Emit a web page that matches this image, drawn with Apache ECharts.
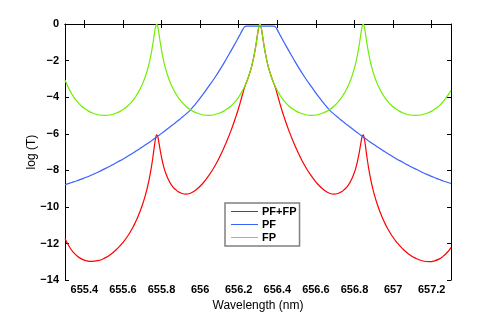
<!DOCTYPE html>
<html>
<head>
<meta charset="utf-8">
<script src="https://cdn.jsdelivr.net/npm/echarts@6/dist/echarts.min.js"></script>
<style>
html,body{margin:0;padding:0;background:#fff;}
#chart{width:498px;height:317px;}
</style>
</head>
<body>
<div id="chart"></div>
<script>
// Wavelength grid (nm)
var wavelength = [
655.300,655.325,655.345,655.360,655.385,655.410,655.435,655.470,655.505,
655.540,655.575,655.600,655.625,655.650,655.665,655.675,655.685,655.695,655.705,655.715,655.725,655.735,655.745,655.755,655.760,655.765,655.770,
655.775,
655.780,655.785,655.790,655.795,655.805,655.815,655.825,655.835,655.845,655.855,655.865,655.875,655.885,655.900,655.925,655.950,655.975,656.010,656.0425,
656.075,656.110,656.135,656.160,656.185,656.200,656.210,656.220,656.230,656.240,656.250,656.260,656.270,656.280,656.290,656.295,656.300,656.305,
656.310,
656.315,656.320,656.325,656.330,656.340,656.350,656.360,656.370,656.380,656.390,656.400,656.410,656.420,656.435,656.460,656.485,656.510,656.545,656.5775,
656.610,656.645,656.670,656.695,656.720,656.735,656.745,656.755,656.765,656.775,656.785,656.795,656.805,656.815,656.825,656.830,656.835,656.840,
656.845,
656.850,656.855,656.860,656.865,656.875,656.885,656.895,656.905,656.915,656.925,656.935,656.945,656.955,656.970,656.995,657.020,657.045,657.080,657.115,
657.15,657.19,657.21,657.24,657.26,657.28,657.30
];
// PF+FP (red)
var pfFp = [
-11.72,-12.22,-12.50,-12.66,-12.84,-12.94,-12.98,-12.94,-12.80,
-12.57,-12.24,-11.95,-11.59,-11.15,-10.84,-10.60,-10.35,-10.07,-9.76,-9.41,-9.01,-8.55,-7.99,-7.31,-6.92,-6.54,-6.22,
-6.06,
-6.14,-6.39,-6.69,-7.00,-7.52,-7.93,-8.24,-8.49,-8.69,-8.85,-8.98,-9.07,-9.16,-9.24,-9.30,-9.25,-9.10,-8.76,-8.32,
-7.79,-7.08,-6.49,-5.83,-5.08,-4.58,-4.22,-3.84,-3.47,-3.19,-2.91,-2.58,-2.19,-1.70,-1.10,-0.75,-0.41,-0.12,
0,
-0.12,-0.41,-0.75,-1.10,-1.70,-2.19,-2.58,-2.91,-3.19,-3.47,-3.84,-4.22,-4.58,-5.08,-5.83,-6.49,-7.08,-7.79,-8.32,
-8.76,-9.10,-9.25,-9.30,-9.24,-9.16,-9.07,-8.98,-8.85,-8.69,-8.49,-8.24,-7.93,-7.52,-7.00,-6.69,-6.39,-6.14,
-6.06,
-6.22,-6.54,-6.92,-7.31,-7.99,-8.55,-9.01,-9.41,-9.76,-10.07,-10.35,-10.60,-10.84,-11.15,-11.59,-11.95,-12.24,-12.57,-12.80,
-12.94,-12.99,-12.96,-12.84,-12.69,-12.49,-12.22
];
// PF (blue)
var pf = [
-8.78,-8.70,-8.63,-8.58,-8.48,-8.38,-8.27,-8.10,-7.92,
-7.73,-7.53,-7.39,-7.23,-7.07,-6.97,-6.90,-6.83,-6.76,-6.69,-6.62,-6.55,-6.48,-6.41,-6.33,-6.29,-6.25,-6.22,
-6.18,
-6.14,-6.10,-6.06,-6.02,-5.94,-5.86,-5.78,-5.70,-5.62,-5.54,-5.46,-5.37,-5.29,-5.16,-4.94,-4.69,-4.39,-3.92,-3.44,
-2.95,-2.37,-1.93,-1.47,-1.00,-0.71,-0.52,-0.32,-0.16,-0.12,-0.12,-0.12,-0.12,-0.12,-0.12,-0.12,-0.12,-0.12,
-0.12,
-0.12,-0.12,-0.12,-0.12,-0.12,-0.12,-0.12,-0.12,-0.12,-0.16,-0.32,-0.52,-0.71,-1.00,-1.47,-1.93,-2.37,-2.95,-3.44,
-3.92,-4.39,-4.69,-4.94,-5.16,-5.29,-5.37,-5.46,-5.54,-5.62,-5.70,-5.78,-5.86,-5.94,-6.02,-6.06,-6.10,-6.14,
-6.18,
-6.22,-6.25,-6.29,-6.33,-6.41,-6.48,-6.55,-6.62,-6.69,-6.76,-6.83,-6.90,-6.97,-7.07,-7.23,-7.39,-7.53,-7.73,-7.92,
-8.10,-8.29,-8.38,-8.50,-8.58,-8.65,-8.72
];
// FP (green)
var fp = [
-3.06,-3.64,-3.99,-4.20,-4.48,-4.68,-4.83,-4.96,-5.00,
-4.96,-4.83,-4.68,-4.48,-4.20,-3.99,-3.82,-3.64,-3.43,-3.19,-2.91,-2.58,-2.19,-1.70,-1.10,-0.75,-0.41,-0.12,
0,
-0.12,-0.41,-0.75,-1.10,-1.70,-2.19,-2.58,-2.91,-3.19,-3.43,-3.64,-3.82,-3.99,-4.20,-4.48,-4.68,-4.83,-4.96,-5.00,
-4.96,-4.83,-4.68,-4.48,-4.20,-3.99,-3.82,-3.64,-3.43,-3.19,-2.91,-2.58,-2.19,-1.70,-1.10,-0.75,-0.41,-0.12,
0,
-0.12,-0.41,-0.75,-1.10,-1.70,-2.19,-2.58,-2.91,-3.19,-3.43,-3.64,-3.82,-3.99,-4.20,-4.48,-4.68,-4.83,-4.96,-5.00,
-4.96,-4.83,-4.68,-4.48,-4.20,-3.99,-3.82,-3.64,-3.43,-3.19,-2.91,-2.58,-2.19,-1.70,-1.10,-0.75,-0.41,-0.12,
0,
-0.12,-0.41,-0.75,-1.10,-1.70,-2.19,-2.58,-2.91,-3.19,-3.43,-3.64,-3.82,-3.99,-4.20,-4.48,-4.68,-4.83,-4.96,-5.00,
-4.96,-4.82,-4.70,-4.46,-4.23,-3.96,-3.62
];
var xTicks = [655.4,655.6,655.8,656,656.2,656.4,656.6,656.8,657,657.2];
var seriesNames = ['PF+FP','PF','FP'];
var colors = ['#ff0000','#3a62ff','#6fee00'];

function zip(xs, ys){ return xs.map(function(x,i){ return [x, ys[i]]; }); }
var FONT = 'Liberation Sans, Arial, Helvetica, sans-serif';

var chart = echarts.init(document.getElementById('chart'), null, {renderer:'canvas'});
var axisLineStyle = {color:'#000', width:1};
chart.setOption({
  animation:false,
  backgroundColor:'#fff',
  grid:{left:65, right:47, top:24, bottom:36, containLabel:false},
  legend:{
    data:seriesNames,
    orient:'vertical',
    left:225, top:203,
    icon:'rect',
    itemWidth:27, itemHeight:1, itemGap:2,
    padding:[3,3,3,6],
    backgroundColor:'#fff',
    borderColor:'#808080', borderWidth:1.5, borderRadius:0,
    textStyle:{fontFamily:FONT, fontSize:11, fontWeight:'bold', color:'#000', padding:[0,0,0,-1]}
  },
  xAxis:[{
    type:'value', min:655.3, max:657.3, position:'bottom',
    name:'Wavelength (nm)', nameLocation:'middle', nameGap:16,
    nameTextStyle:{fontFamily:FONT, fontSize:12, color:'#000'},
    axisLine:{show:true, lineStyle:axisLineStyle},
    axisTick:{show:true, inside:true, length:4, customValues:xTicks, lineStyle:axisLineStyle},
    axisLabel:{show:true, customValues:xTicks, margin:4, fontFamily:FONT, fontSize:11, fontWeight:'bold', color:'#000'},
    splitLine:{show:false}
  },{
    type:'value', min:655.3, max:657.3, position:'top',
    axisLine:{show:true, lineStyle:axisLineStyle},
    axisTick:{show:true, inside:true, length:4, customValues:xTicks, lineStyle:axisLineStyle},
    axisLabel:{show:false}, splitLine:{show:false}
  }],
  yAxis:[{
    type:'value', min:-14, max:0, interval:2, position:'left',
    name:'log (T)', nameLocation:'middle', nameGap:27, nameRotate:90, nameMoveOverlap:false,
    nameTextStyle:{fontFamily:FONT, fontSize:12, color:'#000'},
    axisLine:{show:true, lineStyle:axisLineStyle},
    axisTick:{show:true, inside:true, length:4, lineStyle:axisLineStyle},
    axisLabel:{show:true, margin:6, fontFamily:FONT, fontSize:11, fontWeight:'bold', color:'#000',
      formatter:function(v){ return String(v).replace('-', '\u2212'); }},
    splitLine:{show:false}
  },{
    type:'value', min:-14, max:0, interval:2, position:'right',
    axisLine:{show:true, lineStyle:axisLineStyle},
    axisTick:{show:true, inside:true, length:4, lineStyle:axisLineStyle},
    axisLabel:{show:false}, splitLine:{show:false}
  }],
  series:[
    {name:seriesNames[0], type:'line', data:zip(wavelength,pfFp), symbol:'none', smooth:0.5,
     lineStyle:{color:colors[0], width:1.2}, itemStyle:{color:colors[0]}},
    {name:seriesNames[1], type:'line', data:zip(wavelength,pf), symbol:'none', smooth:0.5,
     lineStyle:{color:colors[1], width:1.2}, itemStyle:{color:colors[1]}},
    {name:seriesNames[2], type:'line', data:zip(wavelength,fp), symbol:'none', smooth:0.5,
     lineStyle:{color:colors[2], width:1.2}, itemStyle:{color:colors[2]}}
  ]
});
</script>
</body>
</html>
